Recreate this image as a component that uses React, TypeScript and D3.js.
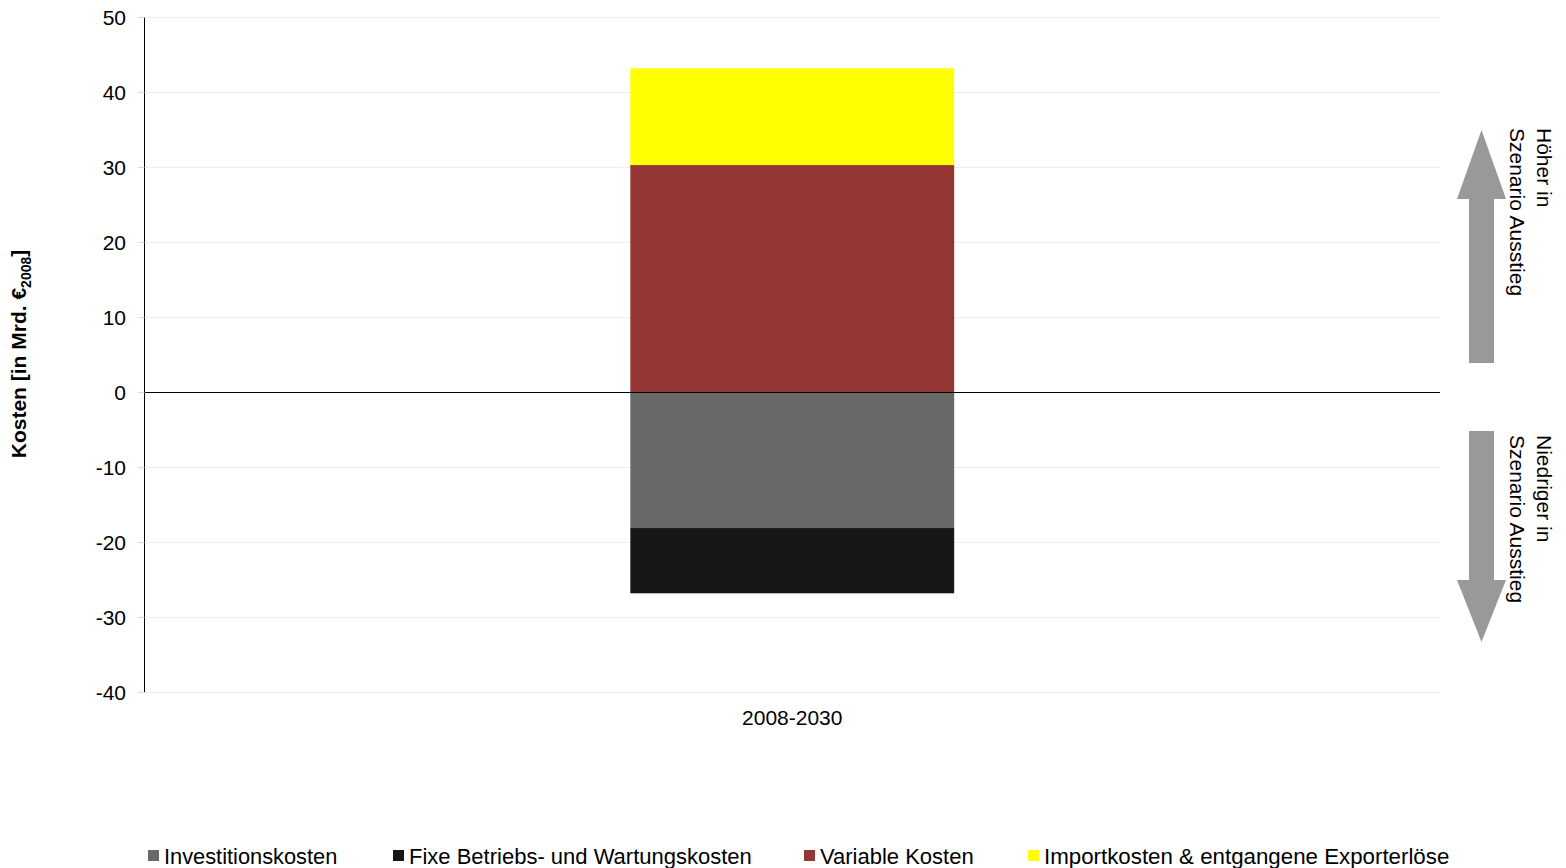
import React from "react";
import * as d3 from "d3";

const categories = ["2008-2030"];
const seriesNames = [
  "Investitionskosten",
  "Fixe Betriebs- und Wartungskosten",
  "Variable Kosten",
  "Importkosten & entgangene Exporterlöse",
];
const investitionskosten = [-18.1];
const fixeKosten = [-8.7];
const variableKosten = [30.3];
const importKosten = [12.9];
const yTicks = [-40, -30, -20, -10, 0, 10, 20, 30, 40, 50];
const colors = ["#696969", "#161817", "#943634", "#FFFF00"];

const W = 1566;
const H = 868;
const FONT = "'Liberation Sans', Arial, Helvetica, sans-serif";

export default function App() {
  const left = 144.5;
  const right = 1440;
  const y = d3.scaleLinear().domain([-40, 50]).range([692.3, 17.3]);
  const x = d3
    .scaleBand<string>()
    .domain(categories)
    .range([left, right])
    .paddingInner(0.6)
    .paddingOuter(0.6);

  const rows = categories.map((c, i) => ({
    cat: c,
    [seriesNames[0]]: investitionskosten[i],
    [seriesNames[1]]: fixeKosten[i],
    [seriesNames[2]]: variableKosten[i],
    [seriesNames[3]]: importKosten[i],
  }));
  const stack = d3
    .stack<any>()
    .keys(seriesNames)
    .offset(d3.stackOffsetDiverging);
  const layers = stack(rows);

  const legendX = [148, 393, 804, 1028];
  const legendFont = [21.8, 22, 22, 22.3];

  const arrowColor = "#999999";
  const upArrow = [
    [1469, 363],
    [1469, 199],
    [1457, 199],
    [1481.5, 130],
    [1506, 199],
    [1494, 199],
    [1494, 363],
  ];
  const downArrow = [
    [1469, 431],
    [1494, 431],
    [1494, 580],
    [1506, 580],
    [1481.5, 642],
    [1457, 580],
    [1469, 580],
  ];

  return (
    <svg
      width={W}
      height={H}
      style={{ position: "absolute", left: 0, top: 0, background: "#fff" }}
      fontFamily={FONT}
    >
      {/* gridlines */}
      {yTicks.map((t) => (
        <line
          key={"g" + t}
          x1={left}
          x2={right}
          y1={Math.round(y(t)) + 0.5}
          y2={Math.round(y(t)) + 0.5}
          stroke="#eeeeee"
          strokeWidth={1}
        />
      ))}
      {/* bars */}
      {layers.map((layer, li) =>
        layer.map((d, di) => (
          <rect
            key={li + "-" + di}
            x={x(categories[di])}
            width={x.bandwidth()}
            y={y(Math.max(d[0], d[1]))}
            height={Math.abs(y(d[0]) - y(d[1]))}
            fill={colors[li]}
          />
        ))
      )}
      {/* zero line */}
      <line
        x1={left}
        x2={right}
        y1={Math.round(y(0)) + 0.5}
        y2={Math.round(y(0)) + 0.5}
        stroke="#000"
        strokeWidth={1}
      />
      {/* y axis */}
      <line x1={left} x2={left} y1={y(50)} y2={y(-40)} stroke="#000" strokeWidth={1} />
      {yTicks.map((t) => (
        <g key={"t" + t}>
          <line
            x1={left - 6.5}
            x2={left}
            y1={Math.round(y(t)) + 0.5}
            y2={Math.round(y(t)) + 0.5}
            stroke="#ddd"
          />
          <text
            x={126}
            y={y(t)}
            dy="0.36em"
            textAnchor="end"
            fontSize={21}
            fill="#000"
          >
            {t}
          </text>
        </g>
      ))}
      {/* x label */}
      {categories.map((c) => (
        <text
          key={c}
          x={(x(c) as number) + x.bandwidth() / 2}
          y={725}
          textAnchor="middle"
          fontSize={21}
          fill="#000"
        >
          {c}
        </text>
      ))}
      {/* y title */}
      <text
        transform={`translate(26,354) rotate(-90)`}
        textAnchor="middle"
        fontSize={21}
        fontWeight="bold"
        fill="#000"
      >
        Kosten [in Mrd. €
        <tspan fontSize={14} dy={5}>
          2008
        </tspan>
        <tspan dy={-5}>]</tspan>
      </text>
      {/* arrows */}
      <polygon points={upArrow.map((p) => p.join(",")).join(" ")} fill={arrowColor} />
      <polygon points={downArrow.map((p) => p.join(",")).join(" ")} fill={arrowColor} />
      <text transform="translate(1537,128) rotate(90)" fontSize={21} fill="#000">
        Höher in
      </text>
      <text transform="translate(1510,128) rotate(90)" fontSize={21} fill="#000">
        Szenario Ausstieg
      </text>
      <text transform="translate(1537,435) rotate(90)" fontSize={21} fill="#000">
        Niedriger in
      </text>
      <text transform="translate(1510,435) rotate(90)" fontSize={21} fill="#000">
        Szenario Ausstieg
      </text>
      {/* legend */}
      {seriesNames.map((s, i) => (
        <g key={s}>
          <rect x={legendX[i]} y={850} width={11} height={11} fill={colors[i]} />
          <text x={legendX[i] + 16} y={864} fontSize={legendFont[i]} fill="#000">
            {s}
          </text>
        </g>
      ))}
    </svg>
  );
}
